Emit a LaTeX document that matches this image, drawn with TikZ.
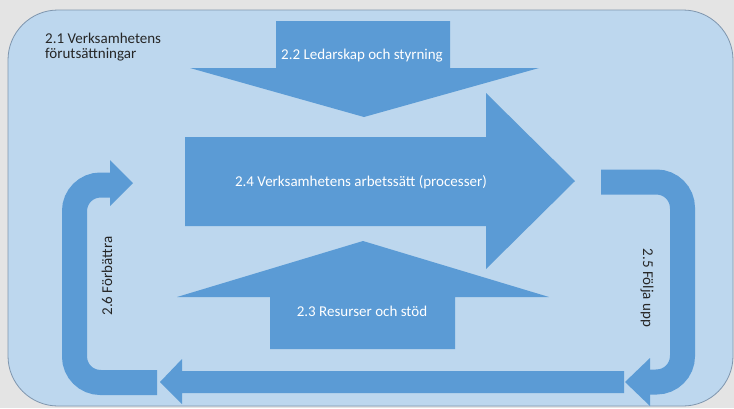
\documentclass[tikz,border=0pt]{standalone}
\usepackage{fontspec}
\setmainfont{Carlito}
\definecolor{pagegrey}{HTML}{E4E4E4}
\definecolor{frameblue}{HTML}{BDD7EE}
\definecolor{frameline}{HTML}{7F96AE}
\definecolor{arrowblue}{HTML}{5B9BD5}
\definecolor{darktext}{HTML}{262626}

\begin{document}
\begin{tikzpicture}[x=1pt,y=-1pt,
    blockarrow/.style={fill=arrowblue},
    band/.style={draw=arrowblue,line width=25pt,rounded corners=26},
    inlbl/.style={text=white,font=\fontsize{15}{14.5}\selectfont},
    outlbl/.style={text=darktext,font=\fontsize{15}{14.5}\selectfont}]
   \useasboundingbox (0,0) rectangle (734,408);
   \fill[pagegrey] (0,0) rectangle (734,408);

   % 2.1 frame
   \draw[fill=frameblue,draw=frameline,line width=0.8pt,rounded corners=50] (8,10) rectangle (733,406);

   % 2.2 down
   \fill[blockarrow] (276,21) -- (450,21) -- (450,68) -- (539,68) -- (364,117) -- (190,68) -- (276,68) -- cycle;
   % 2.4 right
   \fill[blockarrow] (185,137) -- (486,137) -- (486,93) -- (575,181) -- (486,269) -- (486,226) -- (185,226) -- cycle;
   % 2.3 up
   \fill[blockarrow] (270,349) -- (270,297) -- (177,297) -- (363,241) -- (549,297) -- (455,297) -- (455,349) -- cycle;
   % bottom, back to the left
   \fill[blockarrow] (624,371) -- (182,371) -- (182,359) -- (160,382) -- (182,404) -- (182,393) -- (624,393) -- cycle;

   % 2.5 and 2.6 u-turns
   \draw[band] (601,182) -- (682.5,182) -- (682.5,382) -- (649,382);
   \fill[blockarrow] (650,358) -- (625,382) -- (650,406) -- cycle;
   \draw[band] (157,382.5) -- (74.5,382.5) -- (74.5,185) -- (111,185);
   \fill[blockarrow] (110,160) -- (133,183) -- (110,206) -- cycle;

   \node[outlbl,anchor=north west,inner sep=0,align=left] (t21) at (45,33) {2.1 Verksamhetens\\förutsättningar};
   \node[inlbl] (t22) at (362,56) {2.2 Ledarskap och styrning};
   \node[inlbl] (t24) at (361,182) {2.4 Verksamhetens arbetssätt (processer)};
   \node[inlbl] (t23) at (362,311) {2.3 Resurser och stöd};
   \node[outlbl,rotate=90] (t26) at (107,276) {2.6 Förbättra};
   \node[outlbl,rotate=-90] (t25) at (647,288) {2.5 Följa upp};

\end{tikzpicture}
\end{document}
